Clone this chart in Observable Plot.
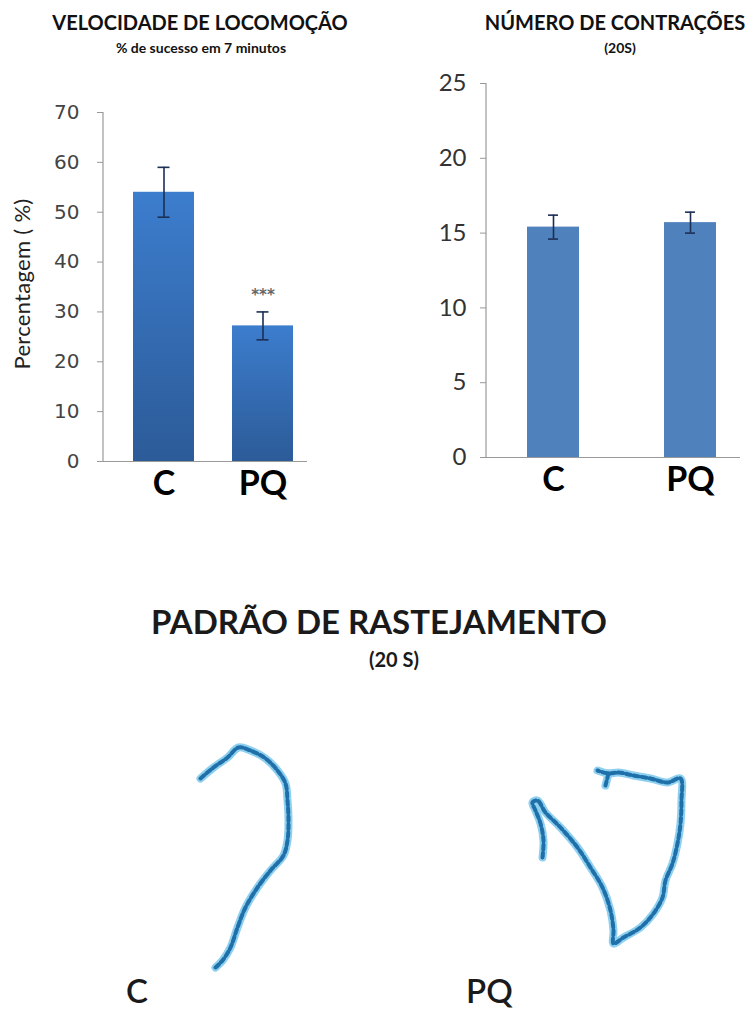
<!DOCTYPE html>
<html>
<head>
<meta charset="utf-8">
<script src="https://cdn.jsdelivr.net/npm/d3@7"></script>
<script src="https://cdn.jsdelivr.net/npm/@observablehq/plot@0.6"></script>
<style>
  body { margin: 0; background: #fff; }
  #root { position: relative; width: 756px; height: 1013px; background: #fff; overflow: hidden; font-family: Lato, "Open Sans", sans-serif; }
  .t { position: absolute; text-align: center; white-space: nowrap; color: #111; }
  .abs { position: absolute; }
</style>
</head>
<body>
<div id="root">
  <div class="t" style="left:0;width:400px;top:10px;font-size:20px;font-weight:700;line-height:24px;">VELOCIDADE DE LOCOMOÇÃO</div>
  <div class="t" style="left:0;width:402px;top:40px;font-size:14px;font-weight:700;line-height:16px;">% de sucesso em 7 minutos</div>
  <div class="t" style="left:480px;width:270px;top:10px;font-size:20px;font-weight:700;line-height:24px;">NÚMERO DE CONTRAÇÕES</div>
  <div class="t" style="left:580px;width:80px;top:40px;font-size:14px;font-weight:700;line-height:16px;">(20S)</div>
  <div class="abs" id="left" style="left:0;top:0;"></div>
  <div class="abs" id="right" style="left:378px;top:0;"></div>
  <div class="t" style="left:0;width:758px;top:602px;font-size:33px;font-weight:700;line-height:38px;color:#1a1a1a;">PADRÃO DE RASTEJAMENTO</div>
  <div class="t" style="left:0;width:788px;top:647px;font-size:20px;font-weight:700;line-height:24px;color:#1a1a1a;">(20 S)</div>
  <div class="abs" id="traces" style="left:0;top:720px;"></div>
  <div class="t" style="left:126px;top:970px;font-size:33px;font-weight:600;line-height:40px;color:#1a1a1a;">C</div>
  <div class="t" style="left:466px;top:970px;font-size:33px;font-weight:600;line-height:40px;color:#1a1a1a;">PQ</div>
</div>
<script>
// ---- data ----
const groups = ["C", "PQ"];
const locomocao = [54.0, 27.2];
const locomocaoErr = [5.0, 2.8];
const signif = ["", "***"];
const contracoes = [15.4, 15.7];
const contracoesErr = [0.8, 0.7];
const yTicksLeft = [0, 10, 20, 30, 40, 50, 60, 70];
const yTicksRight = [0, 5, 10, 15, 20, 25];
// crawl traces (arena units, y downward)
const traceC = [[200,58],[213,47],[227,37],[238,27],[250,30],[265,38],[277,50],[285,63],[287,80],[288,100],[287,120],[283,135],[270,150],[257,167],[245,187],[237,207],[230,227],[222,240],[215,247]];
const tracePQ = [[164,137],[165,120],[162,103],[157,90],[154,82],[159,80],[167,92],[182,107],[199,127],[212,147],[224,167],[232,190],[235,210],[235,223],[245,217],[262,207],[275,193],[284,177],[287,160],[294,143],[299,123],[302,103],[303,80],[302,58],[289,62],[272,58],[255,55],[240,52],[230,53],[219,50]];
const tracePQHook = [[230,53],[227,65]];

// ---- tables ----
const locoData = groups.map((g, i) => ({group: g, value: locomocao[i], lo: locomocao[i] - locomocaoErr[i], hi: locomocao[i] + locomocaoErr[i], sig: signif[i]}));
const contData = groups.map((g, i) => ({group: g, value: contracoes[i], lo: contracoes[i] - contracoesErr[i], hi: contracoes[i] + contracoesErr[i]}));
const traceRows = [
  ...traceC.map(([x, y]) => ({group: "C", seg: "C", x, y})),
  ...tracePQ.map(([x, y]) => ({group: "PQ", seg: "PQ", x, y})),
  ...tracePQHook.map(([x, y]) => ({group: "PQ", seg: "PQh", x, y}))
];

const axisLine = (stroke) => (index, scales, values, dims) => {
  const g = d3.create("svg:g");
  g.append("line")
    .attr("x1", dims.marginLeft).attr("x2", dims.marginLeft)
    .attr("y1", dims.marginTop).attr("y2", dims.height - dims.marginBottom)
    .attr("stroke", stroke).attr("stroke-width", 1.2);
  return g.node();
};

// ---- left chart ----
const left = Plot.plot({
  width: 378, height: 520,
  marginLeft: 103, marginRight: 71, marginTop: 112, marginBottom: 59,
  style: {fontFamily: "DejaVu Sans", fontSize: "20px", color: "#444", background: "transparent"},
  x: {domain: groups, range: [102, 324], paddingInner: 0.38, paddingOuter: 0.3},
  y: {domain: [0, 70]},
  marks: [
    Plot.axisY({ticks: yTicksLeft, tickSize: 6, tickPadding: 18, stroke: "#999", fill: "#444", fontSize: 20, label: null}),
    Plot.barY(locoData, {x: "group", y: "value", fill: "url(#gradL)"}),
    Plot.ruleX(locoData, {x: "group", y1: "lo", y2: "hi", stroke: "#1c2f55", strokeWidth: 1.6}),
    Plot.tickY(locoData, {x: "group", y: "lo", stroke: "#1c2f55", strokeWidth: 1.6, insetLeft: 24.5, insetRight: 24.5}),
    Plot.tickY(locoData, {x: "group", y: "hi", stroke: "#1c2f55", strokeWidth: 1.6, insetLeft: 24.5, insetRight: 24.5}),
    Plot.text(locoData, {x: "group", y: "hi", text: "sig", dy: -17, fill: "#666", fontSize: 15, fontWeight: "bold"}),
    Plot.ruleY([0], {stroke: "#999", strokeWidth: 1.2}),
    axisLine("#999"),
    Plot.axisX({tickSize: 0, tickPadding: 9, fontSize: 34, fontWeight: "bold", fontFamily: "Lato", fill: "#000", label: null}),
    Plot.text(["Percentagem ( %)"], {frameAnchor: "left", textAnchor: "middle", rotate: -90, dx: -81, dy: -3, fontSize: 22, fontFamily: "Lato", fill: "#222"})
  ]
});
const defs = d3.select(left).insert("defs", ":first-child");
const grad = defs.append("linearGradient").attr("id", "gradL").attr("x1", 0).attr("y1", 0).attr("x2", 0).attr("y2", 1);
grad.append("stop").attr("offset", "0%").attr("stop-color", "#3c7dcd");
grad.append("stop").attr("offset", "100%").attr("stop-color", "#2c5b98");
d3.select(left).selectAll("text").filter(function() { return this.textContent === "Percentagem ( %)"; })
  .style("letter-spacing", "0.3px");
document.getElementById("left").append(left);

// ---- right chart ----
const right = Plot.plot({
  width: 378, height: 520,
  marginLeft: 108, marginRight: 16, marginTop: 83, marginBottom: 63,
  style: {fontFamily: "Lato", fontSize: "24px", color: "#333", background: "transparent"},
  x: {domain: groups, range: [106.6, 379.4], paddingInner: 0.623, paddingOuter: 0.3},
  y: {domain: [0, 25]},
  marks: [
    Plot.axisY({ticks: yTicksRight, tickSize: 6, tickPadding: 14, stroke: "#999", fill: "#333", fontSize: 24, label: null}),
    Plot.barY(contData, {x: "group", y: "value", fill: "#4f81bd"}),
    Plot.ruleX(contData, {x: "group", y1: "lo", y2: "hi", stroke: "#1c2f55", strokeWidth: 1.6}),
    Plot.tickY(contData, {x: "group", y: "lo", stroke: "#1c2f55", strokeWidth: 1.6, insetLeft: 21, insetRight: 21}),
    Plot.tickY(contData, {x: "group", y: "hi", stroke: "#1c2f55", strokeWidth: 1.6, insetLeft: 21, insetRight: 21}),
    Plot.ruleY([0], {stroke: "#999", strokeWidth: 1.2}),
    axisLine("#999"),
    Plot.axisX({tickSize: 0, tickPadding: 9, fontSize: 34, fontWeight: "bold", fontFamily: "Lato", fill: "#000", label: null})
  ]
});
document.getElementById("right").append(right);

// ---- crawl traces ----
const traces = Plot.plot({
  width: 756, height: 290, margin: 0,
  style: {background: "transparent"},
  fx: {domain: groups, padding: 0, axis: null},
  x: {domain: [0, 378], axis: null},
  y: {domain: [0, 290], reverse: true, axis: null},
  marks: [
    Plot.line(traceRows, {fx: "group", x: "x", y: "y", z: "seg", stroke: "#8fd0f0", strokeWidth: 8, curve: "catmull-rom", strokeLinecap: "round"}),
    Plot.line(traceRows, {fx: "group", x: "x", y: "y", z: "seg", stroke: "#1f6fa8", strokeWidth: 4, strokeDasharray: "5,3", curve: "catmull-rom"})
  ]
});
document.getElementById("traces").append(traces);
</script>
</body>
</html>
